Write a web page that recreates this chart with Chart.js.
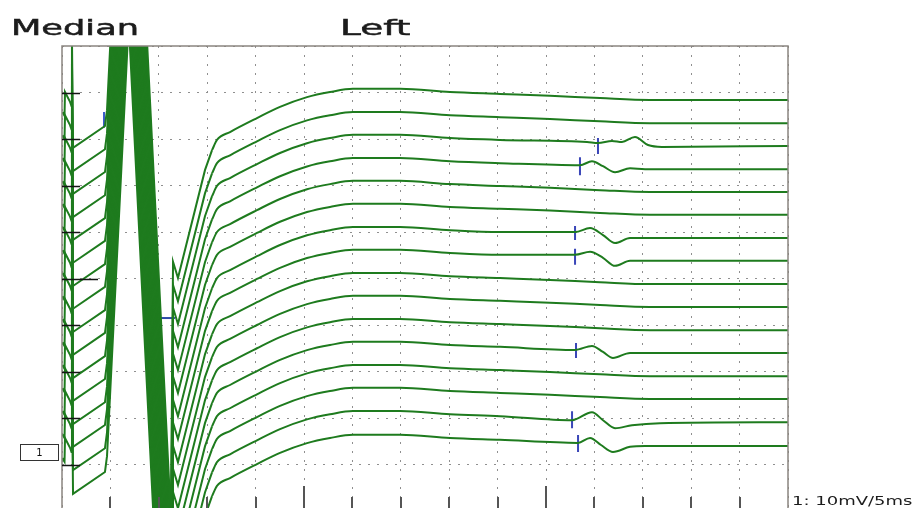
<!DOCTYPE html>
<html>
<head>
<meta charset="utf-8">
<script src="https://cdn.jsdelivr.net/npm/chart.js@4.4.1/dist/chart.umd.min.js"></script>
<style>
body { margin: 0; background: #fff; overflow: hidden; }
#wrap { position: relative; width: 915px; height: 508px; }
canvas { position: absolute; left: 0; top: 0; }
.lbl { position: absolute; font-family: "DejaVu Sans", sans-serif; color: #1c1c1c; transform-origin: 0 0; white-space: nowrap; line-height: 1; }
.naslov { -webkit-text-stroke: 0.5px #1c1c1c; }
.box { position: absolute; left: 20px; top: 444px; width: 37px; height: 15px; border: 1px solid #333; font: 10px "DejaVu Sans", sans-serif; text-align: center; line-height: 15px; color: #111; }
</style>
</head>
<body>
<div id="wrap">
  <canvas id="grafik" width="915" height="508"></canvas>
  <div class="lbl naslov" style="left:11px; top:17px; font-size:22px; transform:scaleX(1.6)">Median</div>
  <div class="lbl naslov" style="left:340px; top:17px; font-size:22px; transform:scaleX(1.7)">Left</div>
  <div class="lbl" style="left:792px; top:495px; font-size:12px; transform:scaleX(1.5)">1: 10mV/5ms</div>
  <div class="box">1</div>
</div>
<script>
// stimulus artifact + M-wave (fast part), time in ms, amplitude in mV relative to the sweep baseline
const brziMs = [0.03, 0.26, 0.31, 0.83, 0.98, 1.03, 1.14, 4.44, 4.65, 6.89, 11.26, 11.47, 11.98, 14.77, 15.50];
const brziMv = [-2.6, -3.4, 1.7, -0.4, -1.3, 12.9, -10.3, -5.6, -2.2, 91.2, -90.3, -34.8, -38.3, -15.1, -10.8];

// slow recovery after the M-wave
const sporiMs = [15.50, 16.01, 17.36, 20.14, 22.52, 25.31, 27.69, 30.06, 34.92, 40.08, 45.25, 50.41, 55.58, 60.74, 75];
const sporiMv = [-10.8, -8.6, -6.9, -3.9, -1.5, 0.6, 1.7, 2.4, 2.4, 1.7, 1.3, 0.9, 0.4, 0, 0];

// baseline of each of the 16 stacked sweeps (mV, 0 = top of the screen)
const baselines = [-11.6, -16.6, -21.5, -26.5, -31.4, -36.3, -41.3, -46.2,
    -51.2, -56.1, -61.1, -66.0, -71.0, -75.9, -80.9, -86.0];

// F-waves: sweep index, time points and amplitudes
const fTrace = [2, 3, 6, 7, 11, 14, 15];
const fMs = [
    [54.24, 55.37, 56.82, 57.85, 59.19, 60.54, 61.98],
    [53.51, 54.75, 55.89, 57.13, 58.68, 60.23],
    [53.00, 54.55, 55.89, 57.13, 58.68, 60.23],
    [53.00, 54.55, 55.89, 57.13, 58.68, 60.23],
    [53.00, 54.75, 55.89, 56.92, 58.68, 60.23],
    [52.69, 54.75, 55.89, 57.13, 58.88, 61.78],
    [53.31, 54.55, 55.68, 56.92, 58.68, 60.23]
];
const fMv = [
    [0.86, 0.65, 1.08, 0.86, 1.94, 0.2, -0.2],
    [0.86, 1.72, 0.65, -0.65, 0.2, 0],
    [1.29, 2.15, 0.65, -1.08, 0, 0],
    [1.29, 1.94, 0.65, -1.08, 0, 0],
    [0.65, 1.5, 0.2, -1.08, 0, 0],
    [0.43, 2.15, 0.43, -1.29, -0.65, -0.2],
    [0.65, 1.72, 0.2, -1.29, -0.2, 0]
];

// F-wave latency cursors
const markMs = [55.37, 53.51, 53.00, 53.00, 53.10, 52.69, 53.31];
const markHi = [1.7, 2.6, 2.6, 2.6, 2.15, 2.37, 2.37];
const markLo = [-1.7, -1.3, -0.43, -0.86, -1.08, -1.29, -1.29];

// M-wave cursors
const mOnsetMs = 4.34;
const mOnsetMv = [-14.2, -17.6];
const mPeakMs = [9.3, 11.67];
const mPeakMv = -58.5;

const xTicks = [5, 10, 15, 20, 25, 30, 35, 40, 45, 50, 55, 60, 65, 70];
const longTicks = [25, 50];
const yTicks = [-10, -20, -30, -40, -50, -60, -70, -80, -90];

const boja = '#1e7b1e';
let datasets = [];

baselines.forEach((base, k) => {
    datasets.push({
        data: brziMs.map((t, i) => ({ x: t, y: base + brziMv[i] })),
        borderColor: boja,
        borderWidth: 2,
        tension: 0
    });

    let points = [];
    let fi = fTrace.indexOf(k);
    for (let i = 0; i < sporiMs.length; i++) {
        if (fi >= 0 && sporiMs[i] > 50 && sporiMs[i] < fMs[fi][fMs[fi].length - 1] + 0.3) {
            continue;
        }
        points.push({ x: sporiMs[i], y: base + sporiMv[i] });
    }
    if (fi >= 0) {
        fMs[fi].forEach((t, j) => points.push({ x: t, y: base + fMv[fi][j] }));
        points.sort((a, b) => a.x - b.x);
    }
    datasets.push({
        data: points,
        borderColor: boja,
        borderWidth: 2,
        cubicInterpolationMode: 'monotone'
    });
});

fTrace.forEach((k, i) => {
    datasets.push({
        data: [{ x: markMs[i], y: baselines[k] + markHi[i] }, { x: markMs[i], y: baselines[k] + markLo[i] }],
        borderColor: '#3a46b8',
        borderWidth: 2
    });
});

datasets.push({
    data: [{ x: mOnsetMs, y: mOnsetMv[0] }, { x: mOnsetMs, y: mOnsetMv[1] }],
    borderColor: '#3a5cc8',
    borderWidth: 2
});
datasets.push({
    data: [{ x: mPeakMs[0], y: mPeakMv }, { x: mPeakMs[1], y: mPeakMv }],
    borderColor: '#2c4aa8',
    borderWidth: 2
});

const okvir = {
    id: 'okvir',
    afterDatasetsDraw(chart) {
        const { ctx, chartArea: a, scales: { x, y } } = chart;
        ctx.save();
        ctx.strokeStyle = '#8a8580';
        ctx.lineWidth = 1.5;
        ctx.beginPath();
        ctx.moveTo(a.left, a.bottom);
        ctx.lineTo(a.left, a.top);
        ctx.lineTo(a.right, a.top);
        ctx.lineTo(a.right, a.bottom);
        ctx.stroke();

        ctx.strokeStyle = '#151515';
        ctx.lineWidth = 1.5;
        for (let v of yTicks) {
            let py = Math.round(y.getPixelForValue(v)) + 0.5;
            ctx.beginPath();
            ctx.moveTo(a.left, py);
            ctx.lineTo(a.left + (v == -50 ? 36 : 18), py);
            ctx.stroke();
        }

        ctx.strokeStyle = '#555';
        ctx.lineWidth = 2;
        for (let t of xTicks) {
            let px = Math.round(x.getPixelForValue(t));
            ctx.beginPath();
            ctx.moveTo(px, a.bottom);
            ctx.lineTo(px, a.bottom - (longTicks.includes(t) ? 22 : 11));
            ctx.stroke();
        }
        ctx.restore();
    }
};

const samoOkrugli = scale => {
    let korak = scale.axis == 'x' ? 5 : 10;
    scale.ticks = scale.ticks.filter(t => Math.abs(Math.round(t.value / korak) * korak - t.value) < 1e-6);
};

new Chart(document.getElementById('grafik'), {
    type: 'line',
    data: { datasets: datasets },
    options: {
        responsive: false,
        animation: false,
        layout: { padding: { left: 62, top: 46, right: 127, bottom: 0 } },
        plugins: { legend: { display: false }, tooltip: { enabled: false } },
        elements: { point: { radius: 0 } },
        scales: {
            x: {
                type: 'linear', min: 0, max: 75,
                ticks: { display: false, stepSize: 5 },
                afterBuildTicks: samoOkrugli,
                grid: { color: '#8f8f8f', lineWidth: 1, drawTicks: false },
                border: { display: false, dash: [2, 7] }
            },
            y: {
                type: 'linear', min: -99.35, max: 0,
                ticks: { display: false, stepSize: 10 },
                afterBuildTicks: samoOkrugli,
                grid: { color: '#8f8f8f', lineWidth: 1, drawTicks: false },
                border: { display: false, dash: [2, 7] }
            }
        }
    },
    plugins: [okvir]
});
</script>
</body>
</html>
